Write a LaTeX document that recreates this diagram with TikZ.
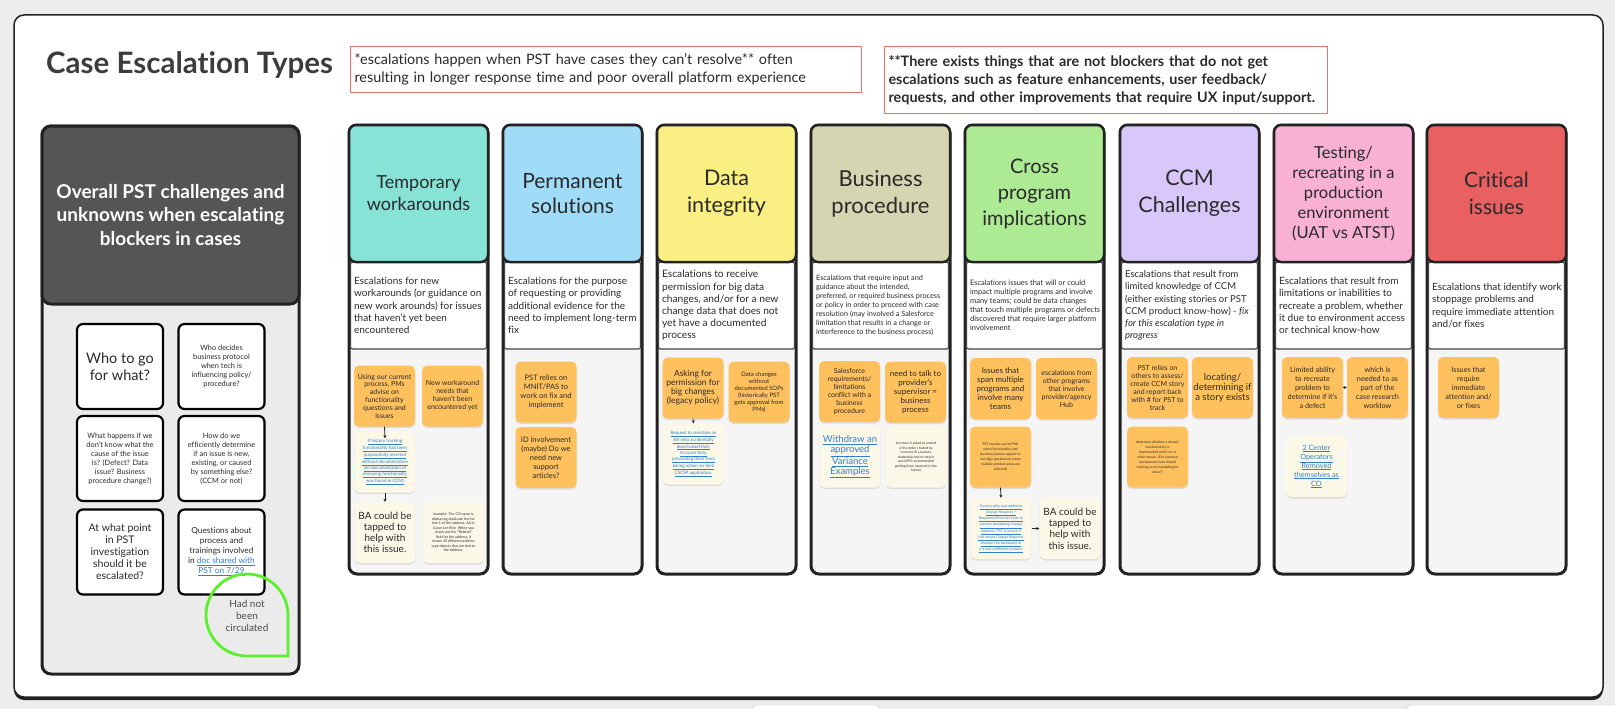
\documentclass[tikz,border=0pt]{standalone}
\usepackage{fontspec}
\setmainfont{Lato}[Ligatures={NoCommon}]
\usetikzlibrary{arrows.meta,shadows}
\definecolor{bgc}{HTML}{EDEDED}
\definecolor{frame}{HTML}{222222}
\definecolor{txt}{HTML}{2A2A2A}
\definecolor{titlec}{HTML}{3C3C3C}
\definecolor{notered}{HTML}{E57373}
\definecolor{panelhead}{HTML}{555555}
\definecolor{panelbody}{HTML}{EBEBEB}
\definecolor{colbody}{HTML}{F5F5F5}
\definecolor{cTemp}{HTML}{86E3D6}
\definecolor{cPerm}{HTML}{A0DBF7}
\definecolor{cData}{HTML}{FAEF82}
\definecolor{cBus}{HTML}{D5D6B1}
\definecolor{cCross}{HTML}{ADEA94}
\definecolor{cCCM}{HTML}{D8C8FA}
\definecolor{cTest}{HTML}{F9B1D3}
\definecolor{cCrit}{HTML}{E86060}
\definecolor{sorange}{HTML}{FFC05E}
\definecolor{scream}{HTML}{FBF8E7}
\definecolor{linkblue}{HTML}{2F7FD0}
\definecolor{bubblegreen}{HTML}{5CF02C}
\newcommand{\myfs}[2]{\fontsize{#1}{#2}\selectfont}
\newcommand{\lk}[1]{{\color{linkblue}\underline{#1}}}
% #1 id, #2 center x, #3 colour, #4/#5 header font, #6 header text, #7/#8 desc font, #9 desc text
\newcommand{\escol}[9]{%
  \node[colframe] (f#1) at (#2,349.5) {};
  \node[coldesc] (d#1) at (#2,305.5) {};
  \node[colhead, fill=#3, font=\myfs{#4}{#5}] (h#1) at (#2,193.5) {#6};
  \node[desctext, font=\myfs{#7}{#8}] (t#1) at ([xshift=4pt]d#1.west) {#9};
}
\begin{document}
\begin{tikzpicture}[x=1pt,y=-1pt,
  colframe/.style={rectangle, rounded corners=8pt, draw=frame, line width=3pt, fill=colbody, minimum width=139pt, minimum height=449pt, inner sep=0},
  colhead/.style={rectangle, rounded corners=7pt, draw=frame, line width=2.5pt, minimum width=139pt, minimum height=137pt, align=center, text=txt, inner sep=0},
  coldesc/.style={rectangle, rounded corners=2pt, draw=frame!85, line width=1.2pt, fill=white, minimum width=136pt, minimum height=87pt, inner sep=0},
  desctext/.style={align=left, text=txt, inner sep=0, anchor=west},
  sticky/.style={rectangle, rounded corners=5pt, minimum width=61pt, minimum height=61pt, inner sep=1pt, align=center, text=txt, drop shadow={shadow xshift=0pt, shadow yshift=-1.5pt, opacity=0.10, fill=black}},
  onote/.style={sticky, fill=sorange},
  cnote/.style={sticky, fill=scream},
  card/.style={rectangle, rounded corners=6pt, draw=black, line width=2.2pt, fill=white, minimum width=86pt, minimum height=85pt, align=center, text=txt, inner sep=1pt},
  conn/.style={draw=frame, line width=0.8pt, -{Stealth[length=3pt,width=3pt]}},
  notebox/.style={rectangle, draw=notered, line width=1pt, fill=white, align=left, text=txt, inner xsep=4pt, inner ysep=0pt}
]
\useasboundingbox (0,0) rectangle (1615,709);
\clip (0,0) rectangle (1615,709);
\fill[bgc] (0,0) rectangle (1615,709);
% board
\fill[frame, rounded corners=10pt] (14,17) rectangle (1603,700);
\draw[fill=white, draw=frame, line width=1.5pt, rounded corners=10pt] (14,15) rectangle (1603,697);
\draw[draw=black!25, fill=white, rounded corners=4pt] (752,705) rectangle (880,720);
\draw[draw=black!25, fill=white, rounded corners=4pt] (1406,705) rectangle (1630,720);

% title and notes
\node[font=\bfseries\myfs{29.5}{32}, text=titlec, anchor=west, inner sep=0] (title) at (46,65) {Case Escalation Types};
\node[notebox, anchor=north west, minimum width=511pt, minimum height=46pt, text width=503pt, font=\myfs{14.4}{18}] (note1) at (350,46)
  {*escalations happen when PST have cases they can't resolve** often\\resulting in longer response time and poor overall platform experience};
\node[notebox, anchor=north west, minimum width=443pt, minimum height=67pt, text width=435pt, font=\bfseries\myfs{14.4}{18}] (note2) at (884,46)
  {**There exists things that are not blockers that do not get\\escalations such as feature enhancements, user feedback/\\requests, and other improvements that require UX input/support.};

% left panel
\node[rectangle, rounded corners=9pt, draw=frame, line width=3pt, fill=panelbody, minimum width=257pt, minimum height=548pt, inner sep=0] (pframe) at (170.5,400) {};
\node[rectangle, rounded corners=9pt, draw=frame, line width=3pt, fill=panelhead, minimum width=257pt, minimum height=178pt, inner sep=0, align=center, text=white, font=\bfseries\myfs{19}{23.5}] (phead) at (170.5,215)
  {Overall PST challenges and\\unknowns when escalating\\blockers in cases};
\node[card, font=\myfs{14.5}{16.5}] (q1) at (120,366.5) {Who to go\\for what?};
\node[card, font=\myfs{7.4}{9}] (q2) at (221.5,366.5) {Who decides\\business protocol\\when tech is\\influencing policy/\\procedure?};
\node[card, font=\myfs{7.4}{9}] (q3) at (120,458.5) {What happens if we\\don't know what the\\cause of the issue\\is? (Defect? Data\\issue? Business\\procedure change?)};
\node[card, font=\myfs{7.4}{9}] (q4) at (221.5,458.5) {How do we\\efficiently determine\\if an issue is new,\\existing, or caused\\by something else?\\(CCM or not)};
\node[card, font=\myfs{10.5}{12}] (q5) at (120,552) {At what point\\in PST\\investigation\\should it be\\escalated?};
\node[card, font=\myfs{8.3}{10}] (q6) at (221.5,552) {Questions about\\process and\\trainings involved\\in \lk{doc shared with}\\\lk{PST on 7/29}};
\draw[bubblegreen, line width=2.8pt] (288,615) arc[start angle=0, end angle=-270, radius=41] -- (288,656) -- cycle;
\node[align=center, text=txt!85, font=\myfs{10}{12}, inner sep=0] (bubble) at (247,616) {Had not\\been\\circulated};

% columns
\escol{1}{418.5}{cTemp}{18}{22}{Temporary\\workarounds}{10}{12.2}{Escalations for new\\workarounds (or guidance on\\new work arounds) for issues\\that haven't yet been\\encountered}
\escol{2}{572.5}{cPerm}{21}{25}{Permanent\\solutions}{10}{12.2}{Escalations for the purpose\\of requesting or providing\\additional evidence for the\\need to implement long-term\\fix}
\escol{3}{726.5}{cData}{21.5}{27}{Data\\integrity}{10.2}{12.2}{Escalations to receive\\permission for big data\\changes, and/or for a new\\change data that does not\\yet have a documented\\process}
\escol{4}{880.5}{cBus}{22}{27}{Business\\procedure}{7.3}{9}{Escalations that require input and\\guidance about the intended,\\preferred, or required business process\\or policy in order to proceed with case\\resolution (may involved a Salesforce\\limitation that results in a change or\\interference to the business process)}
\escol{5}{1034.5}{cCross}{20}{26}{Cross\\program\\implications}{7.5}{9}{Escalations issues that will or could\\impact multiple programs and involve\\many teams; could be data changes\\that touch multiple programs or defects\\discovered that require larger platform\\involvement}
\escol{6}{1189.5}{cCCM}{21.5}{27}{CCM\\Challenges}{9.5}{12.2}{Escalations that result from\\limited knowledge of CCM\\(either existing stories or PST\\CCM product know-how) - \textit{fix}\\\textit{for this escalation type in}\\\textit{progress}}
\escol{7}{1343.5}{cTest}{16.5}{20}{Testing/\\recreating in a\\production\\environment\\(UAT vs ATST)}{10}{12.2}{Escalations that result from\\limitations or inabilities to\\recreate a problem, whether\\it due to environment access\\or technical know-how}
\escol{8}{1496.5}{cCrit}{21}{27}{Critical\\issues}{10}{12.2}{Escalations that identify work\\stoppage problems and\\require immediate attention\\and/or fixes}

% column 1 stickies
\node[onote, font=\myfs{7}{7.8}] (a1) at (384.5,396) {Using our current\\process, PMs\\advise on\\functionality\\questions and\\issues};
\node[onote, font=\myfs{7}{8}] (a2) at (452.5,396) {New workaround\\needs that\\haven't been\\encountered yet};
\node[cnote, font=\myfs{4.5}{6}] (a3) at (385,462) {\lk{If history tracking}\\\lk{functionality had been}\\\lk{purposefully reverted}\\\lk{without documentation}\\\lk{(no documentation of}\\\lk{removing functionality}\\\lk{was found in CCM)}};
\node[cnote, font=\myfs{10}{11}] (a4) at (385,532.5) {BA could be\\tapped to\\help with\\this issue.};
\node[cnote, font=\myfs{3.6}{4.5}] (a5) at (453.5,532.5) {example: The CO name is\\displaying duplicate line for\\line 1 of the address. AA is\\Casse Lee Rite. When you\\check out the "Related"\\field for the address, it\\shows 40 different address\\type objects that are tied to\\the Address.};
% column 2
\node[onote, font=\myfs{7.5}{9}] (b1) at (546,392) {PST relies on\\MNIT/PAS to\\work on fix and\\implement};
\node[onote, font=\myfs{7.5}{9}] (b2) at (546,457.5) {ID involvement\\(maybe) Do we\\need new\\support\\articles?};
% column 3
\node[onote, font=\myfs{8.5}{9}] (c1) at (693,388) {Asking for\\permission for\\big changes\\(legacy policy)};
\node[onote, font=\myfs{6}{7}] (c2) at (759,392) {Data changes\\without\\documented SOPs\\(historically PST\\gets approval from\\PMs)};
\node[cnote, font=\myfs{4.5}{6}] (c3) at (693.5,454) {\lk{Request to reinstate an}\\\lk{AA who accidentally}\\\lk{deactivated their}\\\lk{Account Role,}\\\lk{preventing them from}\\\lk{taking action on their}\\\lk{CSCSP application.}};
% column 4
\node[onote, font=\myfs{7}{8}] (e1) at (849.5,391.5) {Salesforce\\requirements/\\limitations\\conflict with a\\business\\procedure};
\node[onote, font=\myfs{8}{9}] (e2) at (915.5,392) {need to talk to\\provider's\\supervisor =\\business\\process};
\node[cnote, font=\myfs{9.5}{10}] (e3) at (850,457) {\lk{Withdraw an}\\\lk{approved}\\\lk{Variance}\\\lk{Examples}};
\node[cnote, font=\myfs{3.4}{4.5}] (e4) at (916,457) {Licensee A asked to amend\\a fine order created by\\Licensee B. Licensee\\leadership had to step in\\and APM recommended\\getting them involved in the\\future)};
% column 5
\node[onote, font=\myfs{8}{9}] (g1) at (1000.5,388.5) {Issues that\\span multiple\\programs and\\involve many\\teams};
\node[onote, font=\myfs{7}{8}] (g2) at (1066.5,388.5) {escalations from\\other programs\\that involve\\provider/agency\\Hub};
\node[onote, font=\myfs{3.4}{5}] (g3) at (1000.5,457) {PST reaches out to PMs\\when functionality and\\business process appear to\\not align (particularly when\\multiple product areas are\\affected)};
\node[cnote, font=\myfs{3.6}{5.2}] (g4) at (1001,528.5) {\lk{Functionality was added to}\\\lk{Change Requests >}\\\lk{Requested Effective Date to}\\\lk{prevent backdating change}\\\lk{requests. PST is unsure if}\\\lk{this means Change Requests}\\\lk{shouldn't be backdated or}\\\lk{if it was a different product.}};
\node[cnote, font=\myfs{10}{11.3}] (g5) at (1070,528.5) {BA could be\\tapped to\\help with\\this issue.};
% column 6
\node[onote, font=\myfs{7}{8}] (k1) at (1157.5,387.5) {PST relies on\\others to assess/\\create CCM story\\and report back\\with \# for PST to\\track};
\node[onote, font=\myfs{9.5}{10}] (k2) at (1222.5,387.5) {locating/\\determining if\\a story exists};
\node[onote, font=\myfs{3.4}{5}] (k3) at (1157.5,457) {determine whether a closed/\\resolved story is\\implemented and if so, in\\what release. (For a passed\\workaround, how should\\tracking occur/escalating be\\done?)};
% column 7
\node[onote, font=\myfs{7.3}{9}] (m1) at (1312.5,387.5) {Limited ability\\to recreate\\problem to\\determine if it's\\a defect};
\node[onote, font=\myfs{7.3}{9}] (m2) at (1377.5,387.5) {which is\\needed to as\\part of the\\case research\\worklow};
\node[cnote, font=\myfs{7.3}{9}] (m3) at (1316.5,466.5) {\lk{2 Center}\\\lk{Operators}\\\lk{Removed}\\\lk{themselves as}\\\lk{CO}};
% column 8
\node[onote, font=\myfs{7.3}{9}] (n1) at (1468.5,387.5) {Issues that\\require\\immediate\\attention and/\\or fixes};

% connectors
\draw[conn] (a1.south) -- ([yshift=-7pt]a3.north);
\draw[conn] (a3.south) -- (a4.north);
\draw[conn] (c1.south) -- (c3.north);
\draw[conn] (g3.south) -- (g4.north);
\draw[conn] (g4.east) -- (g5.west);
\draw[conn] (m1.east) -- (m2.west);
\end{tikzpicture}
\end{document}
